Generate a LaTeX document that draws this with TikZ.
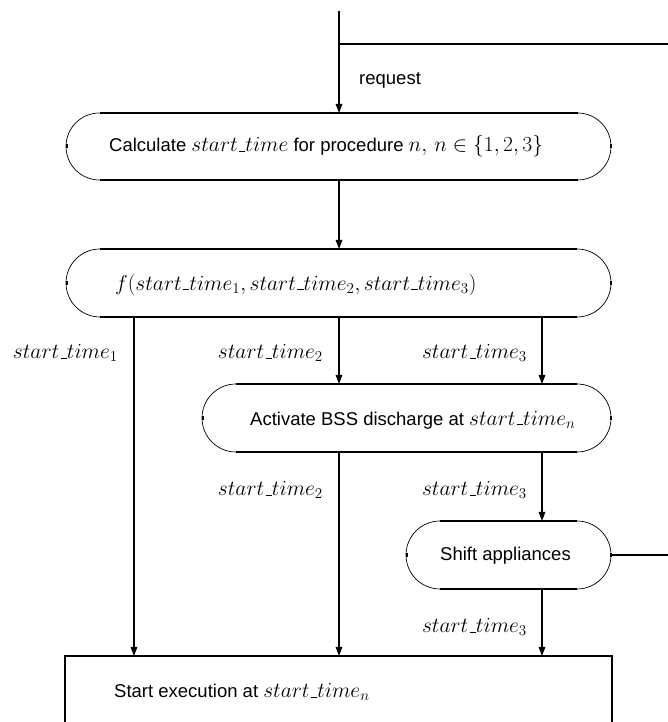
\RequirePackage{fix-cm}
\documentclass[tikz,border=0pt]{standalone}
\usepackage[no-math]{fontspec}
\setmainfont{Liberation Sans}
\usetikzlibrary{arrows.meta,calc}

\newcommand{\mm}[1]{{\fontsize{21.5}{26}\selectfont$#1$}}
\newcommand{\us}{\mathord{\kern.06em\vbox{\hrule height 0.9pt width .3em}}}

\tikzset{
  conn/.style={line width=1.4pt},
  arr/.style={conn, -{Triangle[length=9pt,width=6.5pt]}},
  edgeline/.style={line width=1.5pt},
  arcline/.style={line width=0.7pt},
  tickmark/.style={line width=2pt},
  boxshape/.style={rectangle, draw=none, inner sep=0pt, outer sep=0pt},
  txt/.style={inner sep=0pt, anchor=west, font=\fontsize{18.5}{22}\selectfont},
  lab/.style={inner sep=0pt, anchor=east, font=\fontsize{21.5}{26}\selectfont},
}

% name, cx, cy, width, height
\newcommand{\stadium}[5]{%
  \pgfmathsetmacro{\hh}{#5/2}%
  \node[boxshape, minimum width=#4pt, minimum height=#5pt] (#1) at (#2,#3) {};
  \draw[edgeline] ($(#1.north west)+(\hh,0)$) -- ($(#1.north east)+(-\hh,0)$);
  \draw[edgeline] ($(#1.south west)+(\hh,0)$) -- ($(#1.south east)+(-\hh,0)$);
  \draw[arcline] ($(#1.north west)+(\hh,0)$) arc[start angle=90,end angle=270,radius=\hh];
  \draw[arcline] ($(#1.south east)+(-\hh,0)$) arc[start angle=-90,end angle=90,radius=\hh];
  \draw[tickmark] ($(#1.west)+(0.5,-2)$) -- ($(#1.west)+(0.5,2)$);
  \draw[tickmark] ($(#1.east)+(-0.5,-2)$) -- ($(#1.east)+(-0.5,2)$);
}

\begin{document}
\begin{tikzpicture}[x=1pt,y=1pt]
\useasboundingbox (0,0) rectangle (668,722);

% boxes
\stadium{b1}{338.5}{575.5}{545}{67}
\stadium{b2}{338.5}{439}{545}{68}
\stadium{b3}{406.5}{304}{409}{68}
\stadium{b4}{508.5}{167}{205}{68}
\node[boxshape, draw, line width=1.5pt, minimum width=547pt, minimum height=120pt, anchor=north west] (b5) at (65,66) {};

% texts
\node[txt] (t1) at (109,575.5) {Calculate \mm{start\us time} for procedure \mm{n,\, n \in \{1,2,3\}}};
\node[txt] (t2) at (115,437) {\mm{f(start\us time_1, start\us time_2, start\us time_3)}};
\node[txt] (t3) at (250,302) {Activate BSS discharge at \mm{start\us time_n}};
\node[txt] (t4) at (440,166) {Shift appliances};
\node[txt] (t5) at (114,30) {Start execution at \mm{start\us time_n}};
\node[txt] (req) at (359,642) {request};

% column coordinates
\coordinate (c1) at (134,0);
\coordinate (c2) at (339,0);
\coordinate (c3) at (542,0);
\coordinate (top) at (339,711);
\coordinate (hl) at (339,678);
\coordinate (hr) at (668,678);
\coordinate (out) at (668,167);

% connectors
\draw[arr] (top) -- (top |- b1.north);
\draw[conn] (hl) -- (hr);
\draw[arr] (c2 |- b1.south) -- (c2 |- b2.north);
\draw[arr] (c1 |- b2.south) -- (c1 |- b5.north);
\draw[arr] (c2 |- b2.south) -- (c2 |- b3.north);
\draw[arr] (c3 |- b2.south) -- (c3 |- b3.north);
\draw[arr] (c2 |- b3.south) -- (c2 |- b5.north);
\draw[arr] (c3 |- b3.south) -- (c3 |- b4.north);
\draw[arr] (c3 |- b4.south) -- (c3 |- b5.north);
\draw[conn] (b4.east) -- (out);

% labels
\node[lab] (l1) at (118,369) {$start\us time_1$};
\node[lab] (l2) at (323,369) {$start\us time_2$};
\node[lab] (l3) at (527,369) {$start\us time_3$};
\node[lab] (l4) at (323,232) {$start\us time_2$};
\node[lab] (l5) at (527,232) {$start\us time_3$};
\node[lab] (l6) at (527,95) {$start\us time_3$};
\end{tikzpicture}
\end{document}
